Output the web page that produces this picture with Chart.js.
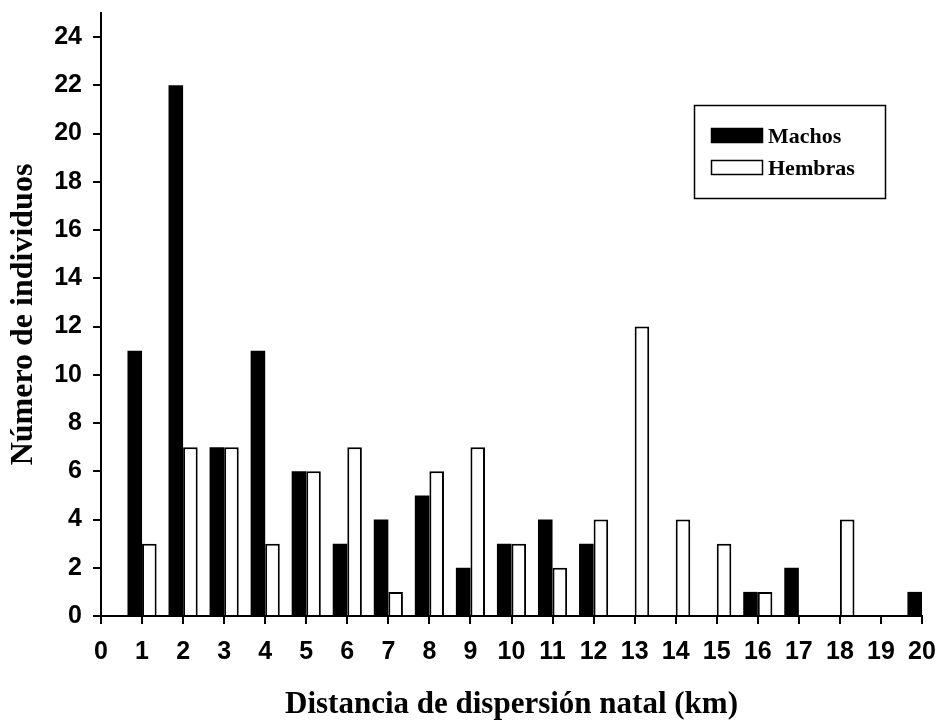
<!DOCTYPE html>
<html>
<head>
<meta charset="utf-8">
<title>Distancia de dispersión natal</title>
<script src="https://cdn.jsdelivr.net/npm/chart.js@4/dist/chart.umd.min.js"></script>
<style>
  html, body { margin: 0; padding: 0; background: #fff; }
  #wrap { width: 937px; height: 724px; position: relative; }
</style>
</head>
<body>
<div id="wrap"><canvas id="dispersalChart"></canvas></div>
<script>
// distance classes (km) and number of individuals per sex
var distancias = [1, 2, 3, 4, 5, 6, 7, 8, 9, 10, 11, 12, 13, 14, 15, 16, 17, 18, 19, 20];
var machos  = [11, 22, 7, 11, 6, 3, 4, 5, 2, 3, 4, 3, 0, 0, 0, 1, 2, 0, 0, 1];
var hembras = [3, 7, 7, 3, 6, 7, 1, 6, 7, 3, 2, 4, 12, 4, 3, 1, 0, 4, 0, 0];
var xTicks = [0, 1, 2, 3, 4, 5, 6, 7, 8, 9, 10, 11, 12, 13, 14, 15, 16, 17, 18, 19, 20];
var yTicks = [0, 2, 4, 6, 8, 10, 12, 14, 16, 18, 20, 22, 24];

function pts(vals) {
  return distancias.map(function (d, i) { return { x: d, y: vals[i] }; });
}

var sansTick = { family: "'Liberation Sans', Arial, sans-serif", size: 25, weight: "bold" };
var serifFamily = "'Liberation Serif', 'Times New Roman', serif";

// boxed legend inside the plot, top right
var legendBox = {
  id: "legendBox",
  afterDraw: function (chart) {
    var ctx = chart.ctx;
    var ds = chart.data.datasets;
    ctx.save();
    ctx.fillStyle = "#fff";
    ctx.fillRect(694, 105, 192, 94);
    ctx.strokeStyle = "#000";
    ctx.lineWidth = 1.5;
    ctx.strokeRect(694.5, 105.5, 191, 93);
    var rows = [136, 168];
    ctx.font = "bold 22px " + serifFamily;
    ctx.textBaseline = "middle";
    ds.forEach(function (d, i) {
      var y = rows[i];
      ctx.fillStyle = d.backgroundColor;
      ctx.fillRect(711, y - 8, 52, 15);
      ctx.lineWidth = 1.5;
      ctx.strokeRect(711.5, y - 7.5, 51, 14);
      ctx.fillStyle = "#000";
      ctx.fillText(d.label, 768, y + 1);
    });
    ctx.restore();
  }
};

new Chart(document.getElementById("dispersalChart"), {
  type: "bar",
  data: {
    datasets: [
      {
        label: "Machos",
        data: pts(machos),
        backgroundColor: "#000",
        borderColor: "#000",
        borderWidth: 0
      },
      {
        label: "Hembras",
        data: pts(hembras),
        backgroundColor: "#fff",
        borderColor: "#000",
        borderWidth: 2,
        borderSkipped: "bottom"
      }
    ]
  },
  options: {
    responsive: true,
    maintainAspectRatio: false,
    animation: false,
    categoryPercentage: 0.71,
    barPercentage: 1,
    layout: { padding: { top: 13, right: 15, bottom: 0, left: 0 } },
    plugins: {
      legend: { display: false },
      tooltip: { enabled: false }
    },
    scales: {
      x: {
        type: "linear",
        min: 0,
        max: 20,
        offset: false,
        afterBuildTicks: function (s) { s.ticks = xTicks.map(function (v) { return { value: v }; }); },
        afterFit: function (s) {
          s.height = 108;
          s.paddingLeft = 0;
          s.paddingRight = 0;
        },
        grid: { display: true, drawOnChartArea: false, drawTicks: true, tickLength: 8, color: "#000", lineWidth: 2, offset: false },
        border: { display: true, color: "#000", width: 2 },
        ticks: { color: "#000", font: sansTick, padding: 13, maxRotation: 0, autoSkip: false },
        title: {
          display: true,
          text: "Distancia de dispersión natal (km)",
          color: "#000",
          font: { family: serifFamily, size: 31, weight: "bold", lineHeight: 1 },
          padding: { top: 0, bottom: 4 }
        }
      },
      y: {
        min: 0,
        max: 25,
        afterBuildTicks: function (s) { s.ticks = yTicks.map(function (v) { return { value: v }; }); },
        afterFit: function (s) {
          s.width = 101;
          s.paddingTop = 0;
          s.paddingBottom = 0;
        },
        grid: { display: true, drawOnChartArea: false, drawTicks: true, tickLength: 8, color: "#000", lineWidth: 2 },
        border: { display: true, color: "#000", width: 2 },
        ticks: { color: "#000", font: sansTick, padding: 11 },
        title: {
          display: true,
          text: "Número de individuos",
          color: "#000",
          font: { family: serifFamily, size: 32, weight: "bold", lineHeight: 1 },
          padding: { top: 8, bottom: 0 }
        }
      }
    }
  },
  plugins: [legendBox]
});
</script>
</body>
</html>
